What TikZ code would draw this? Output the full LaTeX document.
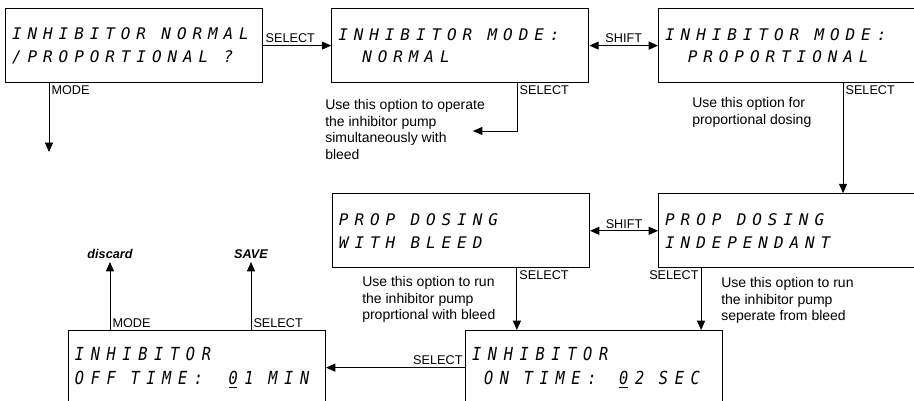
\documentclass[tikz,border=0pt]{standalone}
\usepackage{fontspec}
\setmainfont{Liberation Sans}
\newfontfamily\lcdfont[LetterSpace=37]{DejaVu Sans Mono}
\newfontfamily\lcdtall[LetterSpace=37,FakeStretch=0.85]{DejaVu Sans Mono}
\usetikzlibrary{arrows.meta,positioning}
\newcommand{\lcdul}[1]{\rlap{\rule[-2.4pt]{6.5pt}{0.7pt}}#1}
\newcommand{\lcdsp}{\hspace{11.5pt}}
\newcommand{\lcdgap}{\hspace{11pt}}

\begin{document}
\begin{tikzpicture}[
  x=0.75pt,y=-0.75pt,
  node distance=51pt and 51pt,
  screen/.style={draw,line width=0.9pt,minimum width=192.75pt,minimum height=55.5pt,
                 text width=183pt,inner xsep=4.5pt,align=left,
                 font=\lcdfont\itshape\fontsize{12}{17}\selectfont},
  tallscreen/.style={screen,font=\lcdtall\itshape\fontsize{13.5}{18}\selectfont},
  key/.style={font=\fontsize{9.5}{11}\selectfont,inner sep=1.5pt},
  note/.style={font=\fontsize{10.5}{12.5}\selectfont,align=left,inner sep=0pt,anchor=north west},
  outcome/.style={font=\bfseries\itshape\fontsize{9.5}{11}\selectfont,inner sep=2pt},
  arrow/.style={-{Triangle[length=7pt,width=6pt]},line width=0.75pt},
  twoway/.style={{Triangle[length=7pt,width=6pt]}-{Triangle[length=7pt,width=6pt]},line width=0.75pt}
]
  \useasboundingbox (0,0) rectangle (914,400);
  % screens
  \node[screen,anchor=north west] (askmode) at (5,8) {INHIBITOR\lcdsp NORMAL\\/PROPORTIONAL\lcdsp ?};
  \node[screen,right=51pt of askmode] (normal) {INHIBITOR\lcdsp MODE:\\\hspace*{18pt}NORMAL};
  \node[screen,right=51.5pt of normal] (propl) {INHIBITOR\lcdsp MODE:\\\hspace*{17pt}PROPORTIONAL};
  \node[screen,below=82.5pt of propl] (indep) {PROP\lcdsp DOSING\\INDEPENDANT};
  \node[screen,left=51pt of indep] (withbleed) {PROP\lcdsp DOSING\\WITH\lcdsp BLEED};
  \node[tallscreen,anchor=north west] (ontime) at (465,330) {INHIBITOR\\\hspace*{9pt}ON\lcdgap TIME:\hspace{17pt}\lcdul{0}2\lcdgap SEC};
  \node[tallscreen,left=104.25pt of ontime] (offtime) {INHIBITOR\\OFF\lcdgap TIME:\hspace{19pt}\lcdul{0}1\lcdgap MIN};
  % notes
  \node[note] (normnote) at (325,99) {Use this option to operate\\the inhibitor pump\\simultaneously with\\bleed};
  \node[note] (propnote) at (692,97) {Use this option for\\proportional dosing};
  \node[note] (bleednote) at (362,276) {Use this option to run\\the inhibitor pump\\proprtional with bleed};
  \node[note] (indepnote) at (721,277) {Use this option to run\\the inhibitor pump\\seperate from bleed};
  % free ends
  \coordinate (modeend) at (49,152);
  \coordinate (normend) at (473,131);
  \coordinate (discardend) at (110,262);
  \coordinate (saveend) at (251,262);
  \node[outcome,above] (discard) at (discardend) {discard};
  \node[outcome,above] (save) at (saveend) {SAVE};
  % connectors
  \draw[arrow] (askmode.east) -- (normal.west) node[key,pos=0,anchor=south west] {SELECT};
  \draw[twoway] (normal) -- (propl) node[key,midway,above] {SHIFT};
  \draw[arrow] (askmode.south -| modeend) -- (modeend) node[key,pos=0,anchor=north west] {MODE};
  \draw[arrow] ([xshift=139.5pt]normal.south west) |- (normend) node[key,pos=0,anchor=north west] {SELECT};
  \draw[arrow] ([xshift=138.75pt]propl.south west) -- ([xshift=138.75pt]indep.north west) node[key,pos=0,anchor=north west] {SELECT};
  \draw[twoway] (withbleed) -- (indep) node[key,midway,above] {SHIFT};
  \draw[arrow] ([xshift=138.75pt]withbleed.south west) coordinate (bleedout) -- (bleedout |- ontime.north) node[key,pos=0,anchor=north west] {SELECT};
  \draw[arrow] ([xshift=32.25pt]indep.south west) coordinate (indepout) -- (indepout |- ontime.north) node[key,pos=0,anchor=north east] {SELECT};
  \draw[arrow] (ontime.west) -- (offtime.east) node[key,pos=0,anchor=south east] {SELECT};
  \draw[arrow] (offtime.north -| discardend) -- (discard.south) node[key,pos=0,anchor=south west] {MODE};
  \draw[arrow] (offtime.north -| saveend) -- (save.south) node[key,pos=0,anchor=south west] {SELECT};
\end{tikzpicture}
\end{document}
